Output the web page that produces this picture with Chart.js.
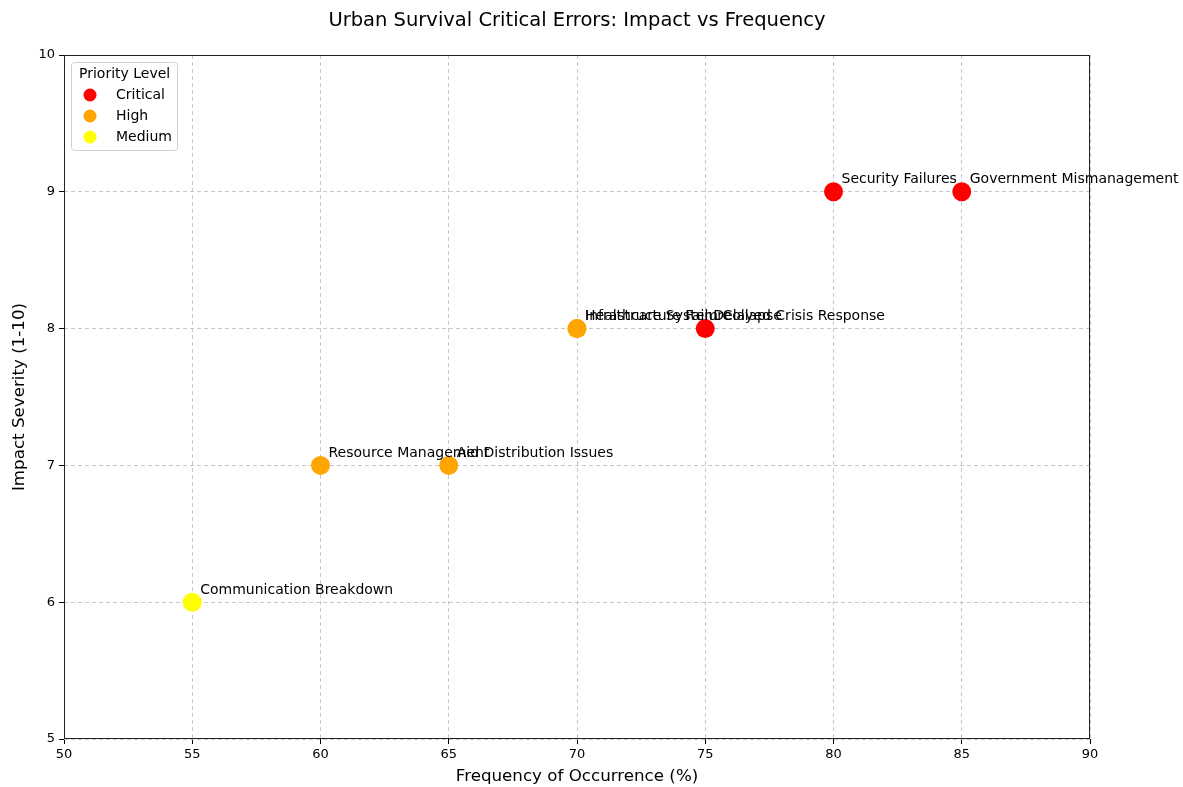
<!DOCTYPE html>
<html>
<head>
<meta charset="utf-8">
<script src="https://cdn.jsdelivr.net/npm/chart.js@4/dist/chart.umd.min.js"></script>
<style>
  html, body { margin: 0; padding: 0; background: #fff; }
</style>
</head>
<body>
<canvas id="chart" width="1183" height="787"></canvas>
<script>
const errorNames = ['Government Mismanagement', 'Security Failures', 'Delayed Crisis Response',
    'Healthcare System Collapse', 'Infrastructure Failure', 'Aid Distribution Issues',
    'Resource Management', 'Communication Breakdown'];
const frequency = [85, 80, 75, 70, 70, 65, 60, 55];
const severity = [9, 9, 8, 8, 8, 7, 7, 6];
const priority = ['Critical', 'Critical', 'Critical', 'High', 'High', 'High', 'High', 'Medium'];
const priorityLevels = ['Critical', 'High', 'Medium'];
const priorityColors = { Critical: '#ff0000', High: '#ffa500', Medium: '#ffff00' };
const chartTitle = 'Urban Survival Critical Errors: Impact vs Frequency';

const FONT = "'DejaVu Sans', sans-serif";

const datasets = priorityLevels.map(level => ({
    label: level,
    data: frequency
        .map((f, i) => ({ x: f, y: severity[i], name: errorNames[i], p: priority[i] }))
        .filter(d => d.p === level),
    backgroundColor: priorityColors[level],
    borderWidth: 0,
    pointRadius: 9.5,
    pointHoverRadius: 9.5
}));

// title over the plot, frame, point labels and legend box
const extras = {
    id: 'extras',
    afterDatasetsDraw(chart) {
        const ctx = chart.ctx;
        const a = chart.chartArea;
        ctx.save();
        ctx.fillStyle = '#000';
        ctx.textBaseline = 'middle';
        ctx.textAlign = 'center';
        ctx.font = '19.5px ' + FONT;
        ctx.fillText(chartTitle, (a.left + a.right) / 2, 21);

        ctx.font = '14px ' + FONT;
        ctx.textAlign = 'left';
        chart.data.datasets.forEach((ds, di) => {
            chart.getDatasetMeta(di).data.forEach((pt, j) => {
                ctx.fillText(ds.data[j].name, pt.x + 8, pt.y - 12);
            });
        });

        ctx.strokeStyle = '#222';
        ctx.lineWidth = 1;
        ctx.strokeRect(a.left + 0.5, a.top + 0.5, a.right - a.left - 1, a.bottom - a.top - 1);

        // legend
        const lx = a.left + 7, ly = a.top + 7, lw = 106, lh = 88;
        ctx.fillStyle = 'rgba(255,255,255,0.85)';
        ctx.strokeStyle = '#d0d0d0';
        ctx.beginPath();
        ctx.roundRect(lx + 0.5, ly + 0.5, lw, lh, 3);
        ctx.fill();
        ctx.stroke();
        ctx.fillStyle = '#000';
        ctx.fillText('Priority Level', lx + 8, ly + 12);
        priorityLevels.forEach((level, k) => {
            const y = ly + 33 + k * 21;
            ctx.fillStyle = priorityColors[level];
            ctx.beginPath();
            ctx.arc(lx + 19, y, 6.5, 0, Math.PI * 2);
            ctx.fill();
            ctx.fillStyle = '#000';
            ctx.fillText(level, lx + 45, y);
        });
        ctx.restore();
    }
};

new Chart(document.getElementById('chart').getContext('2d'), {
    type: 'scatter',
    data: { datasets },
    options: {
        responsive: false,
        animation: false,
        layout: { padding: { left: 10, right: 93, top: 55, bottom: 0 } },
        plugins: {
            legend: { display: false },
            tooltip: { enabled: false },
            title: { display: false }
        },
        scales: {
            x: {
                min: 50, max: 90,
                ticks: { stepSize: 5, color: '#000', font: { family: FONT, size: 13 }, padding: 3 },
                grid: { color: '#c8c8c8', tickColor: '#000', tickLength: 5 },
                border: { display: false, dash: [4, 3] },
                title: { display: true, text: 'Frequency of Occurrence (%)', color: '#000',
                    font: { family: FONT, size: 16.7 }, padding: { top: 5, bottom: 0 } },
                afterFit(s) { s.height = 48; }
            },
            y: {
                min: 5, max: 10,
                ticks: { stepSize: 1, color: '#000', font: { family: FONT, size: 13 }, padding: 4 },
                grid: { color: '#c8c8c8', tickColor: '#000', tickLength: 5 },
                border: { display: false, dash: [4, 3] },
                title: { display: true, text: 'Impact Severity (1-10)', color: '#000',
                    font: { family: FONT, size: 16.7 }, padding: { top: 0, bottom: 6 } },
                afterFit(s) { s.width = 54; }
            }
        }
    },
    plugins: [extras]
});
</script>
</body>
</html>
